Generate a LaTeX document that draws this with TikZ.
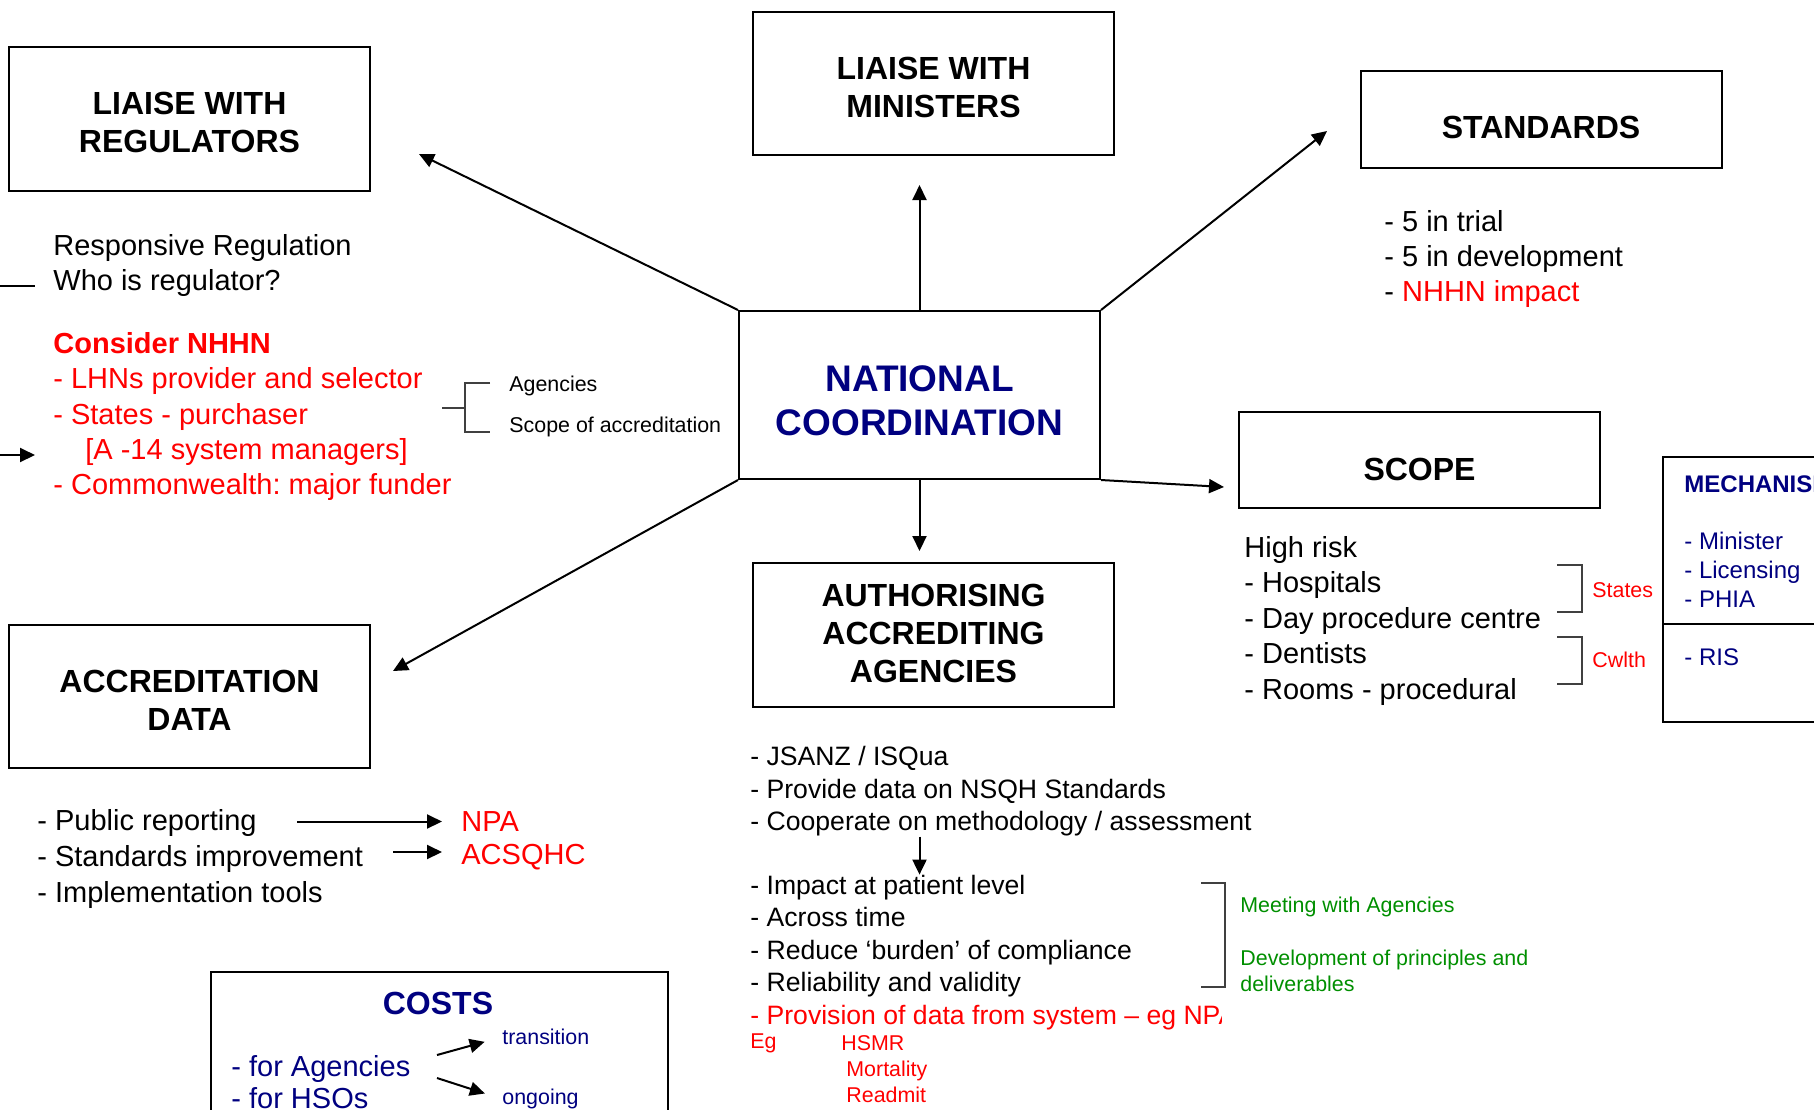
\documentclass[tikz,border=0pt]{standalone}
\usepackage{fontspec}
\setmainfont{Liberation Sans}
\usepackage{xcolor}
\usepackage{tikz}
\usetikzlibrary{positioning,arrows.meta,calc}
\definecolor{ncNavy}{HTML}{000080}
\definecolor{ncRed}{HTML}{FF0000}
\definecolor{ncGreen}{HTML}{008F00}
\newcommand{\bodysize}{\fontsize{14.5}{17.7}\selectfont}
\newcommand{\smallsize}{\fontsize{10.7}{13}\selectfont}
\tikzset{
 topic/.style={draw, line width=1pt, minimum width=180.5pt, inner sep=0pt},
 topictitle/.style={inner sep=0pt, align=center, font=\fontsize{16}{19}\selectfont\bfseries}}
\newcommand{\topicbox}[5]{%
 \node[topic, minimum height=#3] (#1) at (#2) {};%
 \node[topictitle, yshift=#4] (#1t) at (#1.center) {#5};}

\begin{document}
\frenchspacing
\begin{tikzpicture}[x=0.5pt, y=-0.5pt,
 link/.style={-{Triangle[length=7.5pt,width=7pt]}, line width=1pt},
 brace/.style={line width=0.6pt, black!75},
 txt/.style={anchor=west, align=left, inner sep=0pt, font=\bodysize},
 smalltxt/.style={anchor=west, align=left, inner sep=0pt, font=\smallsize}]
\useasboundingbox (0,0) rectangle (1814,1109);
\clip (0,0) rectangle (1814,1109);

\topicbox{reg}{189.5,119}{72pt}{-1.75pt}{LIAISE WITH\\REGULATORS}
\topicbox{min}{933.5,83.5}{71.5pt}{-1.75pt}{LIAISE WITH\\MINISTERS}
\topicbox{std}{1541,119.5}{48.5pt}{-4pt}{STANDARDS}
\topicbox{scp}{1419.5,460}{48pt}{-4.6pt}{SCOPE}
\topicbox{aut}{933.5,635}{72pt}{0.75pt}{AUTHORISING\\ACCREDITING\\AGENCIES}
\topicbox{acc}{189.5,696.5}{71.5pt}{-1.75pt}{ACCREDITATION\\DATA}
\node[topic, minimum height=84pt] (nat) at (919.5,395) {};
\node[topictitle, yshift=-2.9pt, text=ncNavy, font=\fontsize{18.5}{22}\selectfont\bfseries] (natt) at (nat.center) {NATIONAL\\COORDINATION};

\coordinate (tReg) at (419,154);
\coordinate (tMin) at (919.5,185);
\coordinate (tStd) at (1327,131);
\coordinate (tScp) at (1224,487);
\coordinate (tAut) at (919.5,551);
\coordinate (tAcc) at (393,671);
\draw[link] (nat.north west) -- (tReg);
\draw[link] (nat.north) -- (tMin);
\draw[link] (nat.north east) -- (tStd);
\draw[link] (nat.south east) -- (tScp);
\draw[link] (nat.south) -- (tAut);
\draw[link] (nat.south west) -- (tAcc);

% regulators
\node[txt, font=\fontsize{14.5}{17.5}\selectfont] (regq) at (53,265) {Responsive Regulation\\Who is regulator?};
\node[txt, text=ncRed] (nhhn) at (53,416.5) {\textbf{Consider NHHN}\\- LHNs provider and selector\\- States - purchaser\\\hspace*{16pt}[A -14 system managers]\\- Commonwealth: major funder};
\coordinate (edgeA) at (0,286);
\coordinate (edgeB) at (35,286);
\draw[line width=1pt] (edgeA) -- (edgeB);
\coordinate (edgeC) at (0,455);
\coordinate (edgeD) at (35,455);
\draw[link] (edgeC) -- (edgeD);
\node[smalltxt, font=\fontsize{10.7}{20.5}\selectfont] (agen) at (509,406) {Agencies\\Scope of accreditation};
\draw[brace] (442,408) -- (465,408) (490,383) -| (465,432) -- (490,432);

% standards
\node[txt, font=\fontsize{14.5}{17.5}\selectfont] (stdl) at (1384,258.5) {- 5 in trial\\- 5 in development\\- \textcolor{ncRed}{NHHN impact}};

% scope
\node[txt, font=\fontsize{14.5}{17.75}\selectfont] (scpl) at (1244,620.5) {High risk\\- Hospitals\\- Day procedure centre\\- Dentists\\- Rooms - procedural};
\draw[brace] (1557,565) -- (1582,565) -- (1582,612) -- (1557,612);
\draw[brace] (1557,637) -- (1582,637) -- (1582,684) -- (1557,684);
\node[smalltxt, text=ncRed] (states) at (1592,590) {States};
\node[smalltxt, text=ncRed] (cwlth) at (1592,660) {Cwlth};

% mechanisms
\draw[line width=1pt] (1663,457) rectangle (1900,722) (1663,624) -- (1900,624);
\node[txt, text=ncNavy, font=\fontsize{12}{14.5}\selectfont\bfseries] (mech) at (1684,484) {MECHANISMS};
\node[txt, text=ncNavy, font=\fontsize{12}{14.5}\selectfont] (mechl) at (1684,570) {- Minister\\- Licensing\\- PHIA};
\node[txt, text=ncNavy, font=\fontsize{12}{14.5}\selectfont] (ris) at (1684,657) {- RIS};

% accreditation data
\node[txt, font=\fontsize{14.5}{18}\selectfont] (accl) at (37,858.5) {- Public reporting\\- Standards improvement\\- Implementation tools};
\node[txt, text=ncRed] (npa) at (461,821.5) {NPA};
\node[txt, text=ncRed] (acs) at (461,857.5) {ACSQHC};
\coordinate (pubS) at (297,821.5);
\coordinate (impS) at (393,852);
\draw[link, shorten >=9.5pt] (pubS) -- (npa.west);
\draw[link, shorten >=9.5pt] (impS) -- (impS -| acs.west);

% authorising
\node[txt, font=\fontsize{13.3}{16.2}\selectfont] (aut1) at (750,791.5) {- JSANZ / ISQua\\- Provide data on NSQH Standards\\- Cooperate on methodology / assessment};
\node[txt, font=\fontsize{13.3}{16.2}\selectfont] (aut2) at (750,936) {- Impact at patient level\\- Across time\\- Reduce ‘burden’ of compliance\\- Reliability and validity};
\draw[link] (aut1.south -| nat.south) -- (aut2.north -| nat.south);
\begin{scope}
\clip (740,998) rectangle (1221,1036);
\node[txt, text=ncRed, font=\fontsize{13.3}{16.2}\selectfont] (prov) at (750,1017.5) {- Provision of data from system – eg NPA};
\end{scope}
\node[smalltxt, text=ncRed] (eg) at (750,1043.5) {Eg};
\node[smalltxt, text=ncRed] (hsmr) at (841,1043.5) {HSMR};
\node[smalltxt, text=ncRed] (mort) at (846,1082) {Mortality\\Readmit};
\draw[brace] (1201,883) -- (1225,883) -- (1225,987) -- (1201,987);
\node[smalltxt, text=ncGreen] (meet) at (1240,907) {Meeting with Agencies};
\node[smalltxt, text=ncGreen] (devp) at (1240,971) {Development of principles and\\deliverables};

% costs
\draw[line width=1pt] (211,972) rectangle (668,1140);
\node[inner sep=0pt, text=ncNavy, font=\fontsize{16}{19}\selectfont\bfseries] (costs) at (438,1003) {COSTS};
\node[txt, text=ncNavy, font=\fontsize{14.5}{16}\selectfont] (forl) at (231,1082) {- for Agencies\\- for HSOs};
\node[smalltxt, text=ncNavy] (trans) at (502,1037) {transition};
\node[smalltxt, text=ncNavy] (ongo) at (502,1099) {ongoing};
\coordinate (cA) at (437,1055);
\coordinate (cB) at (437,1078);
\draw[link, shorten >=9pt] (cA) -- (trans.west);
\draw[link, shorten >=9pt] (cB) -- (ongo.west);
\end{tikzpicture}
\end{document}
